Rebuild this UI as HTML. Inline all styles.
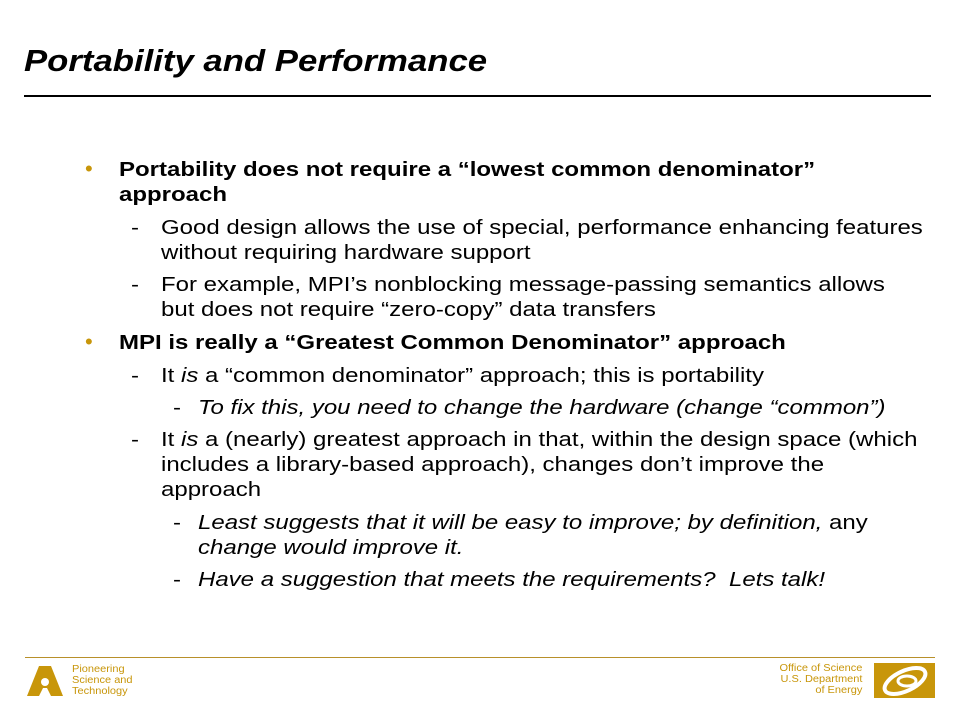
<!DOCTYPE html>
<html><head><meta charset="utf-8"><style>
body{margin:0;width:960px;height:720px;background:#fff;position:relative;overflow:hidden;font-family:"Liberation Sans",Arial,sans-serif;color:#000}
.t{position:absolute;font-size:20px;line-height:25px;white-space:nowrap;transform:scaleX(1.2);transform-origin:0 0}
.b{font-weight:bold}
.i{font-style:italic}
.bul{position:absolute;color:#c8960a;font-size:22px;left:85px}
</style></head><body>
<div style="position:absolute;left:24px;top:41px;font-size:31px;font-weight:bold;font-style:italic;line-height:40px;transform:scaleX(1.12);transform-origin:0 0;white-space:nowrap">Portability and Performance</div>
<div style="position:absolute;left:24px;top:95px;width:907px;height:2px;background:#000"></div>

<div class="bul" style="top:156px">•</div>
<div class="t b" style="left:119px;top:158px">Portability does not require a “lowest common denominator”<br>approach</div>
<div class="t" style="left:131px;top:216px">-</div>
<div class="t" style="left:161px;top:216px">Good design allows the use of special, performance enhancing features<br>without requiring hardware support</div>
<div class="t" style="left:131px;top:273px">-</div>
<div class="t" style="left:161px;top:273px">For example, MPI’s nonblocking message-passing semantics allows<br>but does not require “zero-copy” data transfers</div>

<div class="bul" style="top:329px">•</div>
<div class="t b" style="left:119px;top:331px">MPI is really a “Greatest Common Denominator” approach</div>
<div class="t" style="left:131px;top:364px">-</div>
<div class="t" style="left:161px;top:364px">It <i>is</i> a “common denominator” approach; this is portability</div>
<div class="t" style="left:173px;top:396px">-</div>
<div class="t i" style="left:198px;top:396px">To fix this, you need to change the hardware (change “common”)</div>
<div class="t" style="left:131px;top:428px">-</div>
<div class="t" style="left:161px;top:428px">It <i>is</i> a (nearly) greatest approach in that, within the design space (which<br>includes a library-based approach), changes don’t improve the<br>approach</div>
<div class="t" style="left:173px;top:511px">-</div>
<div class="t i" style="left:198px;top:511px">Least suggests that it will be easy to improve; by definition, <span style="font-style:normal">any</span><br>change would improve it.</div>
<div class="t" style="left:173px;top:568px">-</div>
<div class="t i" style="left:198px;top:568px">Have a suggestion that meets the requirements?&nbsp; Lets talk!</div>

<div style="position:absolute;left:25px;top:657px;width:910px;height:1px;background:#b8902a"></div>
<svg style="position:absolute;left:25px;top:664px" width="40" height="34" viewBox="0 0 40 34">
<path d="M14 2 L26 2 L38 32 L26 32 L22 24 L18 24 L14 32 L2 32 Z" fill="#c8960a"/>
<circle cx="20" cy="18" r="4" fill="#fff"/>
</svg>
<div style="position:absolute;left:72px;top:664px;font-size:10px;line-height:11px;color:#c8960a;transform:scaleX(1.1);transform-origin:0 0">Pioneering<br>Science and<br>Technology</div>
<div style="position:absolute;right:98px;top:663px;font-size:10px;line-height:11px;color:#c8960a;text-align:right;transform:scaleX(1.1);transform-origin:100% 0">Office of Science<br>U.S. Department<br>of Energy</div>
<svg style="position:absolute;left:874px;top:663px" width="61" height="35" viewBox="0 0 61 35">
<rect width="61" height="35" fill="#c8960a"/>
<ellipse cx="31" cy="18" rx="22" ry="10" fill="none" stroke="#fff" stroke-width="4" transform="rotate(-25 31 18)"/>
<ellipse cx="33" cy="18" rx="9" ry="5" fill="none" stroke="#fff" stroke-width="3"/>
</svg>
</body></html>
